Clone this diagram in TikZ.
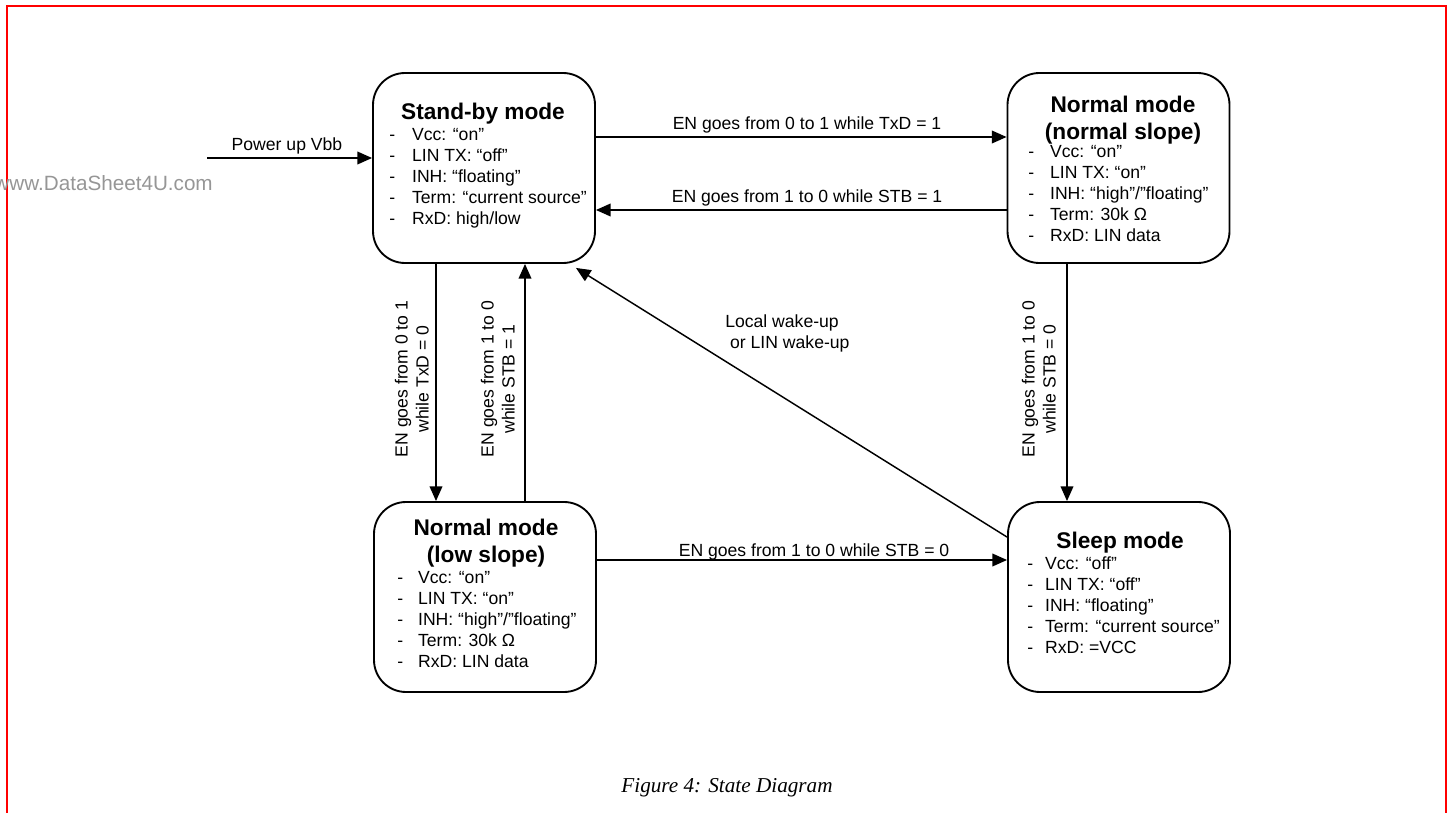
\documentclass[tikz,border=0pt]{standalone}
\usepackage{fontspec}
\setmainfont{Liberation Sans}
\newfontfamily\capfont{Liberation Serif}
\usetikzlibrary{arrows.meta,calc}
\definecolor{framered}{RGB}{255,0,0}
\definecolor{wmgray}{RGB}{150,150,150}
\newcommand{\bodyfont}{\fontsize{13.2}{15.75}\selectfont}
\newcommand{\titlefont}{\fontsize{17}{20.25}\selectfont\bfseries}
\begin{document}
\begin{tikzpicture}[x=0.75pt,y=-0.75pt,
  statebox/.style={draw, line width=1.4pt, rounded corners=24pt,
    minimum width=166.5pt, minimum height=142.5pt, inner sep=0pt},
  arr/.style={line width=1.1pt, -{Triangle[length=11pt,width=9.5pt]}},
  lbl/.style={inner sep=0pt, font=\bodyfont},
  ttl/.style={inner sep=0pt, font=\titlefont},
  rlbl/.style={inner sep=0pt, font=\bodyfont, rotate=90}]
\useasboundingbox (0,0) rectangle (1450,813);
% frame
\draw[framered, line width=2.2pt] (7,830) -- (7,6) -- (1446,6) -- (1446,830);
% watermark
\node[inner sep=0pt, anchor=base east, text=wmgray, font=\fontsize{15.5}{18}\selectfont] (wm) at (213,191) {www.DataSheet4U.com};
% state boxes
\node[statebox] (standby) at (484,168) {};
\node[statebox] (normal) at (1118.5,168) {};
\node[statebox] (low) at (485,597) {};
\node[statebox] (sleep) at (1119,597) {};
% titles
\node[ttl, anchor=base] (standbyT) at (483,120) {Stand-by mode};
\node[ttl, anchor=base] (normalT) at (1123,112.7) {\begin{tabular}[t]{@{}c@{}}Normal mode\\(normal slope)\end{tabular}};
\node[ttl, anchor=base] (lowT) at (486,535) {\begin{tabular}[t]{@{}c@{}}Normal mode\\(low slope)\end{tabular}};
\node[ttl, anchor=base] (sleepT) at (1120,548) {Sleep mode};
% item lists
\node[lbl, anchor=base west] (standbyL) at (389,141) {\begin{tabular}[t]{@{}l@{\hspace{12.75pt}}l@{}}
-& Vcc: “on”\\
-& LIN TX: “off”\\
-& INH: “floating”\\
-& Term: “current source”\\
-& RxD: high/low\end{tabular}};
\node[lbl, anchor=base west] (normalL) at (1028,158) {\begin{tabular}[t]{@{}l@{\hspace{12pt}}l@{}}
-& Vcc: “on”\\
-& LIN TX: “on”\\
-& INH: “high”/”floating”\\
-& Term: 30k Ω\\
-& RxD: LIN data\end{tabular}};
\node[lbl, anchor=base west] (lowL) at (397,583) {\begin{tabular}[t]{@{}l@{\hspace{11.25pt}}l@{}}
-& Vcc: “on”\\
-& LIN TX: “on”\\
-& INH: “high”/”floating”\\
-& Term: 30k Ω\\
-& RxD:\ LIN data\end{tabular}};
\node[lbl, anchor=base west] (sleepL) at (1027,569) {\begin{tabular}[t]{@{}l@{\hspace{9pt}}l@{}}
-& Vcc: “off”\\
-& LIN TX: “off”\\
-& INH: “floating”\\
-& Term: “current source”\\
-& RxD: =VCC\end{tabular}};
% power up
\coordinate (pw) at (207,158);
\draw[arr] (pw) -- (pw -| standby.west);
\node[lbl, anchor=base] (pwl) at (287,151) {Power up Vbb};
% horizontal transitions
\coordinate (ya) at (0,137);
\coordinate (yb) at (0,210);
\coordinate (yc) at (0,560);
\draw[arr] (standby.east |- ya) -- (normal.west |- ya);
\node[lbl, anchor=base] (la) at (807,130) {EN goes from 0 to 1 while TxD = 1};
\draw[arr] (normal.west |- yb) -- (standby.east |- yb);
\node[lbl, anchor=base] (lb) at (807,203) {EN goes from 1 to 0 while STB = 1};
\draw[arr] (low.east |- yc) -- (sleep.west |- yc);
\node[lbl, anchor=base] (lc) at (814,556) {EN goes from 1 to 0 while STB = 0};
% vertical transitions
\coordinate (xa) at (436,0);
\coordinate (xb) at (525,0);
\coordinate (xc) at (1067,0);
\draw[arr] (standby.south -| xa) -- (low.north -| xa);
\draw[arr] (low.north -| xb) -- (standby.south -| xb);
\draw[arr] (normal.south -| xc) -- (sleep.north -| xc);
\node[rlbl] (ld) at (414,379) {\begin{tabular}{@{}c@{}}EN goes from 0 to 1\\while TxD = 0\end{tabular}};
\node[rlbl] (le) at (500,379) {\begin{tabular}{@{}c@{}}EN goes from 1 to 0\\while STB = 1\end{tabular}};
\node[rlbl] (lf) at (1041,379) {\begin{tabular}{@{}c@{}}EN goes from 1 to 0\\while STB = 0\end{tabular}};
% wake-up diagonal
\coordinate (dstart) at ($(sleep.north west)+(0,36)$);
\coordinate (dend) at ($(standby.south east)+(-20,4)$);
\draw[arr] (dstart) -- (dend);
\node[lbl, anchor=base west] (lw) at (725,327) {\begin{tabular}[t]{@{}l@{}}Local wake-up\\\ or LIN wake-up\end{tabular}};
% caption
\node[inner sep=0pt, anchor=base, font=\fontsize{15.9}{18}\selectfont\capfont\itshape] (cap) at (727,792) {Figure 4: State Diagram};
\end{tikzpicture}
\end{document}
